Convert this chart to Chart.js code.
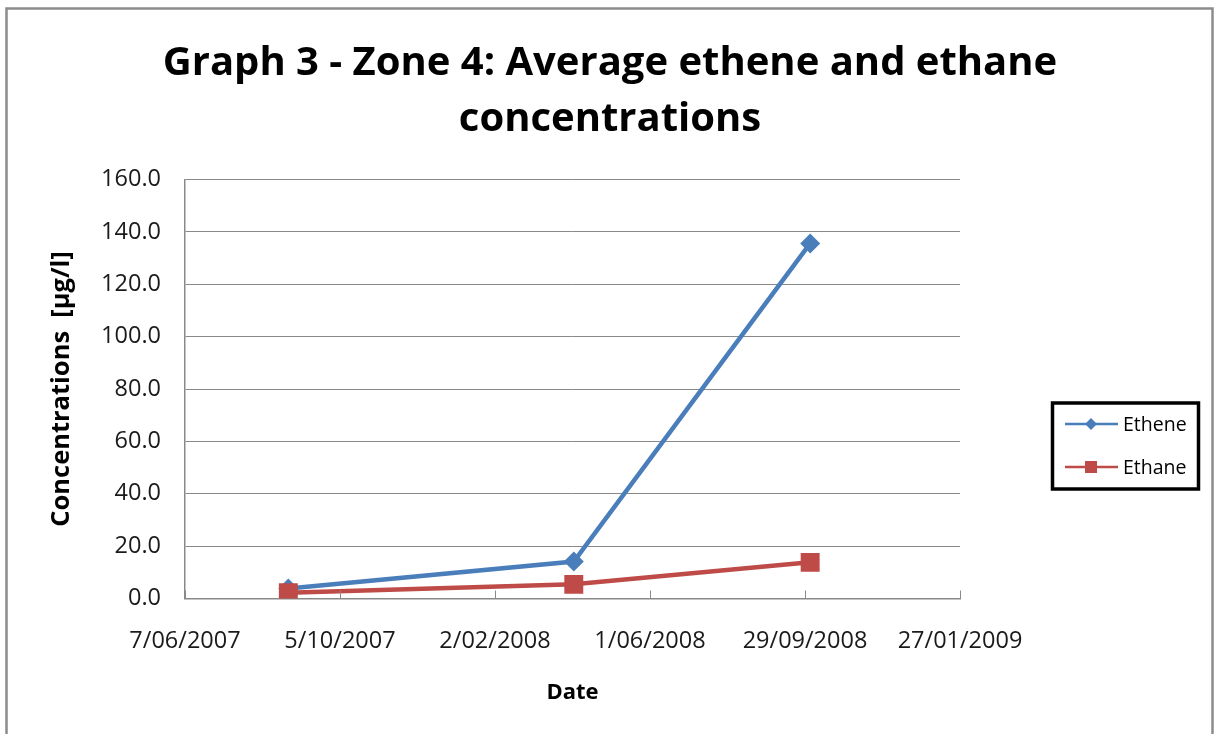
<!DOCTYPE html>
<html>
<head>
<meta charset="utf-8">
<script src="https://cdn.jsdelivr.net/npm/chart.js@4.4.0/dist/chart.umd.min.js"></script>
<style>
  html, body { margin: 0; padding: 0; background: #fff; }
  canvas { display: block; }
</style>
</head>
<body>
<canvas id="chart" width="1214" height="734"></canvas>
<script>
// chart data
const titleLines = ["Graph 3 - Zone 4: Average ethene and ethane", "concentrations"];
const startDate = "2007-06-07";
const xTickLabels = ["7/06/2007", "5/10/2007", "2/02/2008", "1/06/2008", "29/09/2008", "27/01/2009"];
const sampleDates = ["2007-08-26", "2008-04-03", "2008-10-03"];
const etheneValues = [3.8, 14.1, 135.6];
const ethaneValues = [2.2, 5.4, 13.8];
const seriesNames = ["Ethene", "Ethane"];
const seriesColors = ["#4a7ebb", "#be4b48"];

const DAY = 86400000;
function dayOffset(s) {
  return (Date.parse(s) - Date.parse(startDate)) / DAY;
}
const etheneData = sampleDates.map((d, i) => ({ x: dayOffset(d), y: etheneValues[i] }));
const ethaneData = sampleDates.map((d, i) => ({ x: dayOffset(d), y: ethaneValues[i] }));

const FONT = "'Open Sans', 'Noto Sans', sans-serif";
const GRID = "#898989";

// outer frame, title, inward x ticks, boxed legend
const decorations = {
  id: "decorations",
  beforeDraw(chart) {
    const ctx = chart.ctx;
    ctx.save();
    ctx.strokeStyle = "#8c8c8c";
    ctx.lineWidth = 2.5;
    ctx.strokeRect(6.5, 8.5, 1206, 740);
    ctx.restore();
  },
  afterDraw(chart) {
    const ctx = chart.ctx;
    ctx.save();

    // title
    ctx.fillStyle = "#000";
    ctx.textAlign = "center";
    ctx.textBaseline = "alphabetic";
    let size = 44;
    ctx.font = "bold " + size + "px " + FONT;
    const w = ctx.measureText(titleLines[0]).width;
    size = size * 895 / w;
    ctx.font = "bold " + size.toFixed(1) + "px " + FONT;
    ctx.fillText(titleLines[0], 610, 75);
    ctx.fillText(titleLines[1], 610, 131);

    // inward tick marks on the date axis
    const xs = chart.scales.x;
    const bottom = chart.chartArea.bottom;
    ctx.strokeStyle = GRID;
    ctx.lineWidth = 1;
    xs.ticks.forEach(t => {
      const px = Math.round(xs.getPixelForValue(t.value)) + 0.5;
      ctx.beginPath();
      ctx.moveTo(px, bottom);
      ctx.lineTo(px, bottom - 8);
      ctx.stroke();
    });

    // legend
    ctx.strokeStyle = "#000";
    ctx.lineWidth = 3.5;
    ctx.strokeRect(1052.5, 403, 146, 86);
    const rows = [424, 467];
    ctx.font = "19.5px " + FONT;
    ctx.textAlign = "left";
    ctx.textBaseline = "middle";
    rows.forEach((y, i) => {
      ctx.strokeStyle = seriesColors[i];
      ctx.fillStyle = seriesColors[i];
      ctx.lineWidth = 2.5;
      ctx.beginPath();
      ctx.moveTo(1065, y);
      ctx.lineTo(1118, y);
      ctx.stroke();
      ctx.beginPath();
      if (i === 0) {
        ctx.moveTo(1091, y - 6);
        ctx.lineTo(1097, y);
        ctx.lineTo(1091, y + 6);
        ctx.lineTo(1085, y);
        ctx.closePath();
      } else {
        ctx.rect(1085, y - 6, 12, 12);
      }
      ctx.fill();
      ctx.fillStyle = "#000";
      ctx.fillText(seriesNames[i], 1123, y + 1);
    });

    ctx.restore();
  }
};

new Chart(document.getElementById("chart"), {
  type: "scatter",
  data: {
    datasets: [
      {
        label: seriesNames[0],
        data: etheneData,
        showLine: true,
        borderColor: seriesColors[0],
        backgroundColor: seriesColors[0],
        borderWidth: 4.5,
        pointStyle: "rectRot",
        pointRadius: 10,
        pointHoverRadius: 10,
        pointBorderWidth: 0,
        order: 2
      },
      {
        label: seriesNames[1],
        data: ethaneData,
        showLine: true,
        borderColor: seriesColors[1],
        backgroundColor: seriesColors[1],
        borderWidth: 4.5,
        pointStyle: "rect",
        pointRadius: 13.4,
        pointHoverRadius: 13.4,
        pointBorderWidth: 0,
        order: 1
      }
    ]
  },
  options: {
    responsive: false,
    animation: false,
    layout: { padding: { top: 179.5, right: 254, left: 0, bottom: 0 } },
    plugins: {
      legend: { display: false },
      title: { display: false },
      tooltip: { enabled: false }
    },
    scales: {
      x: {
        type: "linear",
        min: 0,
        max: 600,
        afterFit(scale) { scale.height = 135.5; },
        afterBuildTicks(scale) {
          scale.ticks = xTickLabels.map((_, i) => ({ value: i * 120 }));
        },
        ticks: {
          padding: 28.5,
          maxRotation: 0,
          autoSkip: false,
          color: "#1a1a1a",
          font: { family: FONT, size: 23.5 },
          callback: (v, i) => xTickLabels[i]
        },
        grid: { drawOnChartArea: false, drawTicks: false },
        border: { display: true, color: GRID, width: 1.5 },
        title: {
          display: true,
          text: "Date",
          color: "#000",
          font: { family: FONT, size: 22, weight: "bold" },
          padding: { top: 0, bottom: 28 }
        }
      },
      y: {
        min: 0,
        max: 160,
        afterFit(scale) { scale.width = 185; },
        ticks: {
          stepSize: 20,
          padding: 24,
          color: "#1a1a1a",
          font: { family: FONT, size: 23.5 },
          callback: v => v.toFixed(1)
        },
        grid: { color: GRID, lineWidth: 1, drawTicks: false },
        border: { display: true, color: GRID, width: 1.5 },
        title: {
          display: true,
          text: "Concentrations  [µg/l]",
          color: "#000",
          font: { family: FONT, size: 25.5, weight: "bold" },
          padding: { top: 46.5, bottom: 0 }
        }
      }
    }
  },
  plugins: [decorations]
});
</script>
</body>
</html>
